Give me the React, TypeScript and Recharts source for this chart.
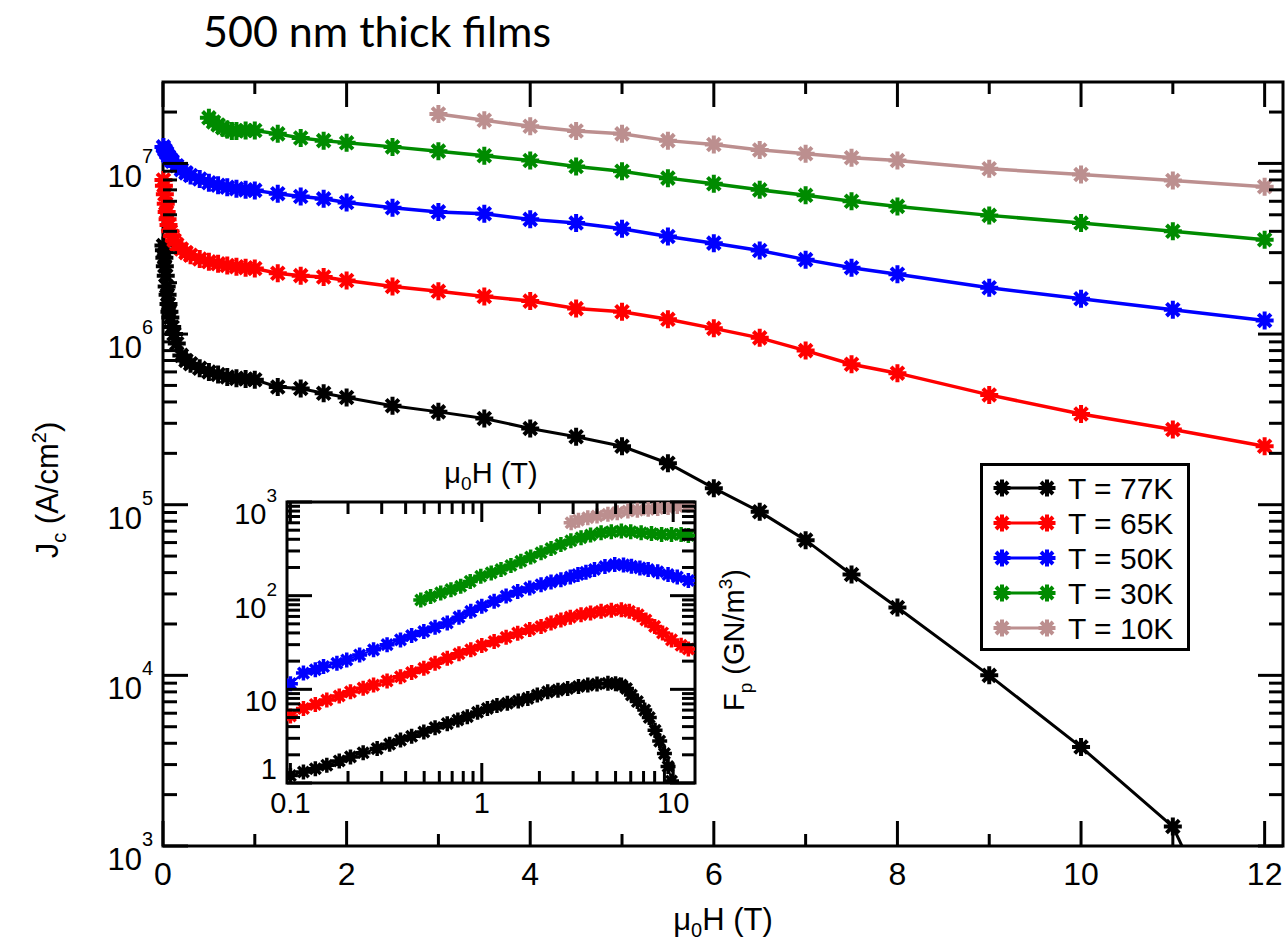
import React from "react";
import { LineChart, Line, XAxis, YAxis, ReferenceArea, Legend } from "recharts";

const FONT = '"Liberation Sans", Arial, Helvetica, sans-serif';

// ---- main panel: Jc (A/cm2) vs mu0H (T) ----
const H_77 = [0.005, 0.01, 0.015, 0.02, 0.03, 0.04, 0.05, 0.06, 0.07, 0.08, 0.1, 0.12, 0.15, 0.2, 0.25, 0.3, 0.4, 0.5, 0.6, 0.7, 0.8, 0.9, 1.0, 1.25, 1.5, 1.75, 2, 2.5, 3, 3.5, 4, 4.5, 5, 5.5, 6, 6.5, 7, 7.5, 8, 9, 10, 11];
const JC_77 = [3.3e6, 3.1e6, 2.8e6, 2.5e6, 2.2e6, 1.9e6, 1.7e6, 1.5e6, 1.35e6, 1.25e6, 1.1e6, 1.0e6, 8.8e5, 7.5e5, 7.0e5, 6.7e5, 6.3e5, 6.0e5, 5.8e5, 5.6e5, 5.5e5, 5.45e5, 5.4e5, 4.9e5, 4.8e5, 4.5e5, 4.25e5, 3.8e5, 3.5e5, 3.2e5, 2.8e5, 2.5e5, 2.2e5, 1.75e5, 1.25e5, 9.1e4, 6.2e4, 3.9e4, 2.5e4, 1.0e4, 3.8e3, 1.3e3];
// 77K curve runs on below the frame after 11 T
const H_77_TAIL = [11, 11.5];
const JC_77_TAIL = [1.3e3, 3.5e2];

const H_65 = [0.005, 0.01, 0.02, 0.03, 0.04, 0.05, 0.06, 0.08, 0.1, 0.12, 0.15, 0.2, 0.25, 0.3, 0.4, 0.5, 0.6, 0.7, 0.8, 0.9, 1.0, 1.25, 1.5, 1.75, 2, 2.5, 3, 3.5, 4, 4.5, 5, 5.5, 6, 6.5, 7, 7.5, 8, 9, 10, 11, 12];
const JC_65 = [8.0e6, 7.4e6, 6.6e6, 5.8e6, 5.2e6, 4.7e6, 4.35e6, 4.0e6, 3.75e6, 3.55e6, 3.35e6, 3.15e6, 3.0e6, 2.9e6, 2.75e6, 2.65e6, 2.58e6, 2.52e6, 2.48e6, 2.45e6, 2.42e6, 2.27e6, 2.2e6, 2.16e6, 2.06e6, 1.9e6, 1.78e6, 1.66e6, 1.56e6, 1.41e6, 1.35e6, 1.22e6, 1.08e6, 9.5e5, 8.0e5, 6.65e5, 5.9e5, 4.4e5, 3.4e5, 2.76e5, 2.2e5];

const H_50 = [0.005, 0.02, 0.04, 0.06, 0.08, 0.1, 0.15, 0.2, 0.25, 0.3, 0.4, 0.5, 0.6, 0.7, 0.8, 0.9, 1.0, 1.25, 1.5, 1.75, 2, 2.5, 3, 3.5, 4, 4.5, 5, 5.5, 6, 6.5, 7, 7.5, 8, 9, 10, 11, 12];
const JC_50 = [1.25e7, 1.2e7, 1.15e7, 1.1e7, 1.06e7, 1.03e7, 9.7e6, 9.2e6, 8.8e6, 8.5e6, 8.1e6, 7.7e6, 7.45e6, 7.25e6, 7.1e6, 7.0e6, 6.95e6, 6.65e6, 6.4e6, 6.2e6, 5.9e6, 5.5e6, 5.2e6, 5.07e6, 4.7e6, 4.47e6, 4.14e6, 3.73e6, 3.41e6, 3.09e6, 2.73e6, 2.45e6, 2.24e6, 1.87e6, 1.61e6, 1.39e6, 1.2e6];

const H_30 = [0.5, 0.55, 0.6, 0.65, 0.7, 0.75, 0.8, 0.9, 1.0, 1.25, 1.5, 1.75, 2, 2.5, 3, 3.5, 4, 4.5, 5, 5.5, 6, 6.5, 7, 7.5, 8, 9, 10, 11, 12];
const JC_30 = [1.85e7, 1.75e7, 1.68e7, 1.62e7, 1.58e7, 1.55e7, 1.55e7, 1.56e7, 1.56e7, 1.49e7, 1.41e7, 1.36e7, 1.32e7, 1.25e7, 1.18e7, 1.11e7, 1.04e7, 9.6e6, 9.0e6, 8.2e6, 7.6e6, 7.0e6, 6.5e6, 6.0e6, 5.6e6, 4.96e6, 4.47e6, 4.0e6, 3.57e6];

const H_10 = [3, 3.5, 4, 4.5, 5, 5.5, 6, 6.5, 7, 7.5, 8, 9, 10, 11, 12];
const JC_10 = [1.95e7, 1.79e7, 1.65e7, 1.55e7, 1.49e7, 1.36e7, 1.29e7, 1.2e7, 1.14e7, 1.08e7, 1.04e7, 9.3e6, 8.6e6, 7.95e6, 7.3e6];

// ---- inset: Fp (GN/m3) vs mu0H (T), log-log ----
const FH_77 = [0.1, 0.117, 0.135, 0.155, 0.18, 0.206, 0.24, 0.284, 0.33, 0.376, 0.43, 0.498, 0.57, 0.66, 0.75, 0.84, 0.95, 1.07, 1.2, 1.36, 1.55, 1.74, 1.95, 2.21, 2.5, 2.81, 3.2, 3.58, 4.0, 4.56, 5.0, 5.36, 5.7, 6.05, 6.5, 7.1, 7.5, 8.04, 8.5, 9.0, 9.4, 9.8];
const FP_77 = [1.2, 1.31, 1.42, 1.55, 1.72, 1.9, 2.1, 2.33, 2.6, 2.87, 3.15, 3.5, 3.9, 4.3, 4.7, 5.1, 5.7, 6.25, 6.7, 7.1, 7.5, 8.0, 8.7, 9.4, 9.8, 10.2, 10.7, 11.1, 11.4, 11.6, 11.5, 11.1, 10.2, 8.7, 7.4, 6.0, 5.0, 3.66, 2.8, 2.06, 1.5, 1.05];

const FH_65 = [0.1, 0.117, 0.135, 0.155, 0.18, 0.206, 0.24, 0.272, 0.32, 0.376, 0.43, 0.498, 0.57, 0.66, 0.76, 0.876, 1.0, 1.16, 1.34, 1.54, 1.78, 2.04, 2.3, 2.59, 2.9, 3.3, 3.7, 4.2, 4.75, 5.36, 5.9, 6.56, 7.2, 8.0, 8.8, 9.8, 11, 12];
const FP_65 = [5.2, 6.25, 6.9, 7.7, 8.5, 9.4, 10.3, 11.1, 12.3, 13.6, 15.1, 16.8, 19, 21.5, 24, 26.4, 29.3, 32.4, 36, 39.8, 43.5, 46.9, 51, 55, 59, 62.5, 65.5, 68, 70, 70.8, 68, 62.5, 55, 47, 40, 33.7, 29.5, 27];

const FH_50 = [0.1, 0.117, 0.135, 0.149, 0.175, 0.197, 0.23, 0.272, 0.32, 0.376, 0.43, 0.498, 0.57, 0.66, 0.76, 0.876, 1.0, 1.16, 1.34, 1.54, 1.78, 2.04, 2.3, 2.59, 2.9, 3.18, 3.5, 3.88, 4.4, 4.95, 5.5, 6.05, 6.7, 7.4, 8.3, 9.4, 10.5, 12];
const FP_50 = [11.5, 14.9, 16.2, 17.5, 19.0, 20.6, 23.3, 26.4, 30, 33.7, 37.5, 41.4, 46, 51, 59, 68, 77, 87, 99, 111, 121, 131, 140, 148, 158, 168, 178, 190, 205, 215, 213, 206, 198, 190, 180, 168, 158, 145];

const FH_30 = [0.48, 0.54, 0.61, 0.69, 0.776, 0.87, 0.988, 1.12, 1.26, 1.42, 1.6, 1.8, 2.04, 2.3, 2.59, 2.92, 3.3, 3.7, 4.2, 4.75, 5.36, 6.0, 6.8, 7.7, 8.7, 9.8, 11, 12];
const FP_30 = [90, 98, 107, 116, 126, 142, 161, 175, 190, 210, 233, 258, 287, 318, 352, 385, 415, 443, 469, 482, 489, 482, 469, 460, 451, 451, 451, 440];

const FH_10 = [2.93, 3.2, 3.58, 4.0, 4.56, 5.1, 5.8, 6.5, 7.4, 8.3, 9.4, 10.5, 12];
const FP_10 = [601, 640, 680, 710, 738, 770, 801, 818, 835, 852, 871, 895, 921];

const SERIES = [
  { name: "T = 77K", color: "#000000", width: 3, h: H_77, jc: JC_77, fh: FH_77, fp: FP_77 },
  { name: "T = 65K", color: "#ff0000", width: 3.5, h: H_65, jc: JC_65, fh: FH_65, fp: FP_65 },
  { name: "T = 50K", color: "#0000ff", width: 3.5, h: H_50, jc: JC_50, fh: FH_50, fp: FP_50 },
  { name: "T = 30K", color: "#008b00", width: 3.5, h: H_30, jc: JC_30, fh: FH_30, fp: FP_30 },
  { name: "T = 10K", color: "#bc8f8f", width: 3.5, h: H_10, jc: JC_10, fh: FH_10, fp: FP_10 },
];

const toPts = (xs: number[], ys: number[]) => xs.map((x, i) => ({ x, y: ys[i] }));

// 1..9 x 10^k tick positions between two decades
const logTicks = (lo: number, hi: number) => {
  const out: number[] = [];
  for (let e = lo; e <= hi; e++) {
    for (let m = 1; m <= 9; m++) {
      if (e === hi && m > 1) break;
      out.push(+(m * Math.pow(10, e)).toPrecision(3));
    }
  }
  return out;
};
const isDecade = (v: number) => Math.abs(Math.log10(v) - Math.round(Math.log10(v))) < 1e-6;

const X_TICKS = [0, 1, 2, 3, 4, 5, 6, 7, 8, 9, 10, 11, 12];
const Y_TICKS = [...logTicks(3, 7), 2e7];
const IX_TICKS = logTicks(-1, 1);
const IY_TICKS = logTicks(0, 3);

// layout
const W = 1288, H = 940;
const P = { left: 163, right: 1283, top: 82, bottom: 846 };
const PW = P.right - P.left, PH = P.bottom - P.top;
const IN = { x: 200, y: 430, w: 560, h: 400, left: 87, right: 495, top: 72, bottom: 353 };
const IPW = IN.right - IN.left, IPH = IN.bottom - IN.top;

const starDot = (r: number, w: number) => (props: any) => {
  const { cx, cy, stroke, index } = props;
  if (cx == null || cy == null) return <g key={index} />;
  const d = r * Math.SQRT1_2;
  return (
    <path
      key={index}
      d={`M${cx - r},${cy}H${cx + r}M${cx},${cy - r}V${cy + r}M${cx - d},${cy - d}L${cx + d},${cy + d}M${cx - d},${cy + d}L${cx + d},${cy - d}`}
      stroke={stroke}
      strokeWidth={w}
      fill="none"
    />
  );
};

const MainXTick = (p: any) => {
  const { x, y, payload } = p;
  const v = payload.value;
  const major = v % 2 === 0;
  const len = major ? 25 : 12;
  return (
    <g>
      <line x1={x} x2={x} y1={y} y2={y - len} stroke="#000" strokeWidth={3} />
      <line x1={x} x2={x} y1={y - PH} y2={y - PH + len} stroke="#000" strokeWidth={3} />
      {major && (
        <text x={x} y={y + 39} textAnchor="middle" fontSize={32} fontFamily={FONT} fill="#000">
          {v}
        </text>
      )}
    </g>
  );
};

const MainYTick = (p: any) => {
  const { x, y, payload } = p;
  const v = payload.value;
  const major = isDecade(v);
  const len = major ? 25 : 14;
  return (
    <g>
      <line x1={x} x2={x + len} y1={y} y2={y} stroke="#000" strokeWidth={3} />
      <line x1={x + PW} x2={x + PW - len} y1={y} y2={y} stroke="#000" strokeWidth={3} />
      {major && (
        <text x={x - 10} y={y + 24} textAnchor="end" fontSize={31} fontFamily={FONT} fill="#000">
          10<tspan dy={-24} fontSize={20}>{Math.round(Math.log10(v))}</tspan>
        </text>
      )}
    </g>
  );
};

const InsetXTick = (p: any) => {
  const { x, y, payload } = p;
  const v = payload.value;
  const major = isDecade(v);
  const len = major ? 20 : 12;
  return (
    <g>
      <line x1={x} x2={x} y1={y} y2={y - len} stroke="#000" strokeWidth={3} />
      <line x1={x} x2={x} y1={y - IPH} y2={y - IPH + len} stroke="#000" strokeWidth={3} />
      {major && (
        <text x={x} y={y + 30} textAnchor="middle" fontSize={29} fontFamily={FONT} fill="#000">
          {v}
        </text>
      )}
    </g>
  );
};

const InsetYTick = (p: any) => {
  const { x, y, payload } = p;
  const v = payload.value;
  const major = isDecade(v);
  const len = major ? 25 : 13;
  const e = Math.round(Math.log10(v));
  return (
    <g>
      <line x1={x} x2={x + len} y1={y} y2={y} stroke="#000" strokeWidth={3} />
      <line x1={x + IPW} x2={x + IPW - len} y1={y} y2={y} stroke="#000" strokeWidth={3} />
      {major && (
        <text x={x - 10} y={y + (e === 0 ? -4 : 22)} textAnchor="end" fontSize={29} fontFamily={FONT} fill="#000">
          {e === 0 ? "1" : "10"}
          {e > 1 && <tspan dy={-22} fontSize={19}>{e}</tspan>}
        </text>
      )}
    </g>
  );
};

const MainXLabel = () => (
  <text x={(P.left + P.right) / 2} y={930} textAnchor="middle" fontSize={31} fontFamily={FONT} fill="#000">
    μ<tspan dy={7} fontSize={20}>0</tspan>
    <tspan dy={-7}>H (T)</tspan>
  </text>
);

const MainYLabel = () => {
  const cx = 58, cy = 490;
  return (
    <text x={cx} y={cy} transform={`rotate(-90, ${cx}, ${cy})`} textAnchor="middle" fontSize={31} fontFamily={FONT} fill="#000">
      J<tspan dy={8} fontSize={20}>c</tspan>
      <tspan dy={-8}> (A/cm</tspan>
      <tspan dy={-12} fontSize={20}>2</tspan>
      <tspan dy={12}>)</tspan>
    </text>
  );
};

const InsetXLabel = () => (
  <text x={(IN.left + IN.right) / 2} y={53} textAnchor="middle" fontSize={29} fontFamily={FONT} fill="#000">
    μ<tspan dy={7} fontSize={19}>0</tspan>
    <tspan dy={-7}>H (T)</tspan>
  </text>
);

const InsetYLabel = () => {
  const cx = 544, cy = 210;
  return (
    <text x={cx} y={cy} transform={`rotate(-90, ${cx}, ${cy})`} textAnchor="middle" fontSize={29} fontFamily={FONT} fill="#000">
      F<tspan dy={8} fontSize={19}>p</tspan>
      <tspan dy={-8}> (GN/m</tspan>
      <tspan dy={-12} fontSize={19}>3</tspan>
      <tspan dy={12}>)</tspan>
    </text>
  );
};

const legendStar = starDot(8.5, 4);

const LegendBox = () => (
  <svg width={210} height={188} style={{ display: "block" }}>
    <rect x={1.5} y={1.5} width={207} height={185} fill="#fff" stroke="#000" strokeWidth={3} />
    {SERIES.map((s, i) => {
      const cy = 25 + 35 * i;
      return (
        <g key={s.name}>
          <line x1={22} x2={67} y1={cy} y2={cy} stroke={s.color} strokeWidth={3} />
          {legendStar({ cx: 22, cy, stroke: s.color, index: "a" })}
          {legendStar({ cx: 67, cy, stroke: s.color, index: "b" })}
          <text x={88} y={cy + 11} fontSize={30} fontFamily={FONT} fill="#000">
            {s.name}
          </text>
        </g>
      );
    })}
  </svg>
);

function Inset() {
  return (
    <div style={{ position: "absolute", left: IN.x, top: IN.y }}>
      <LineChart
        width={IN.w}
        height={IN.h}
        margin={{ top: IN.top, right: IN.w - IN.right, bottom: IN.h - IN.bottom - 40, left: IN.left - 60 }}
      >
        <XAxis
          type="number"
          dataKey="x"
          scale="log"
          domain={[0.096, 13]}
          allowDataOverflow
          ticks={IX_TICKS}
          interval={0}
          tick={InsetXTick}
          tickLine={false}
          axisLine={false}
          tickSize={0}
          tickMargin={0}
          height={40}
          label={InsetXLabel}
        />
        <YAxis
          type="number"
          scale="log"
          domain={[1, 1000]}
          allowDataOverflow
          ticks={IY_TICKS}
          interval={0}
          tick={InsetYTick}
          tickLine={false}
          axisLine={false}
          tickSize={0}
          tickMargin={0}
          width={60}
          label={InsetYLabel}
        />
        <ReferenceArea x1={0.096} x2={13} y1={1} y2={1000} fill="none" stroke="#000" strokeWidth={3} ifOverflow="visible" />
        {SERIES.map((s) => (
          <Line
            key={s.name}
            data={toPts(s.fh, s.fp)}
            dataKey="y"
            stroke={s.color}
            strokeWidth={2}
            dot={starDot(7.5, 3.5)}
            isAnimationActive={false}
          />
        ))}
      </LineChart>
    </div>
  );
}

export default function App() {
  return (
    <div style={{ position: "absolute", left: 0, top: 0, width: W, height: H, background: "#fff" }}>
      <div
        style={{
          position: "absolute",
          left: 203,
          top: 5,
          fontFamily: "Lato, 'Open Sans', sans-serif",
          fontSize: 43,
          color: "#000",
          zIndex: 2,
          whiteSpace: "nowrap",
        }}
      >
        500 nm thick films
      </div>
      <LineChart width={W} height={H} margin={{ top: P.top, right: W - P.right, bottom: H - P.bottom - 60, left: P.left - 100 }}>
        <XAxis
          type="number"
          dataKey="x"
          domain={[0, 12.2]}
          ticks={X_TICKS}
          interval={0}
          tick={MainXTick}
          tickLine={false}
          axisLine={false}
          tickSize={0}
          tickMargin={0}
          height={60}
          label={MainXLabel}
        />
        <YAxis
          type="number"
          scale="log"
          domain={[1e3, 3e7]}
          ticks={Y_TICKS}
          interval={0}
          tick={MainYTick}
          tickLine={false}
          axisLine={false}
          tickSize={0}
          tickMargin={0}
          width={100}
          label={MainYLabel}
        />
        {/* same scale, but clipped to the frame: only used for the 77K tail */}
        <YAxis yAxisId="clip" type="number" scale="log" domain={[1e3, 3e7]} allowDataOverflow hide />
        <ReferenceArea x1={0} x2={12.2} y1={1e3} y2={3e7} fill="none" stroke="#000" strokeWidth={3} ifOverflow="visible" />
        <Line
          yAxisId="clip"
          data={toPts(H_77_TAIL, JC_77_TAIL)}
          dataKey="y"
          stroke="#000"
          strokeWidth={3}
          dot={false}
          legendType="none"
          isAnimationActive={false}
        />
        {SERIES.map((s) => (
          <Line
            key={s.name}
            name={s.name}
            data={toPts(s.h, s.jc)}
            dataKey="y"
            stroke={s.color}
            strokeWidth={s.width}
            dot={starDot(9, 4)}
            isAnimationActive={false}
          />
        ))}
        <Legend
          layout="vertical"
          align="center"
          verticalAlign="middle"
          content={() => <LegendBox />}
          wrapperStyle={{ position: "absolute", left: 980, top: 463, width: 210, height: 188 }}
        />
      </LineChart>
      <Inset />
    </div>
  );
}
